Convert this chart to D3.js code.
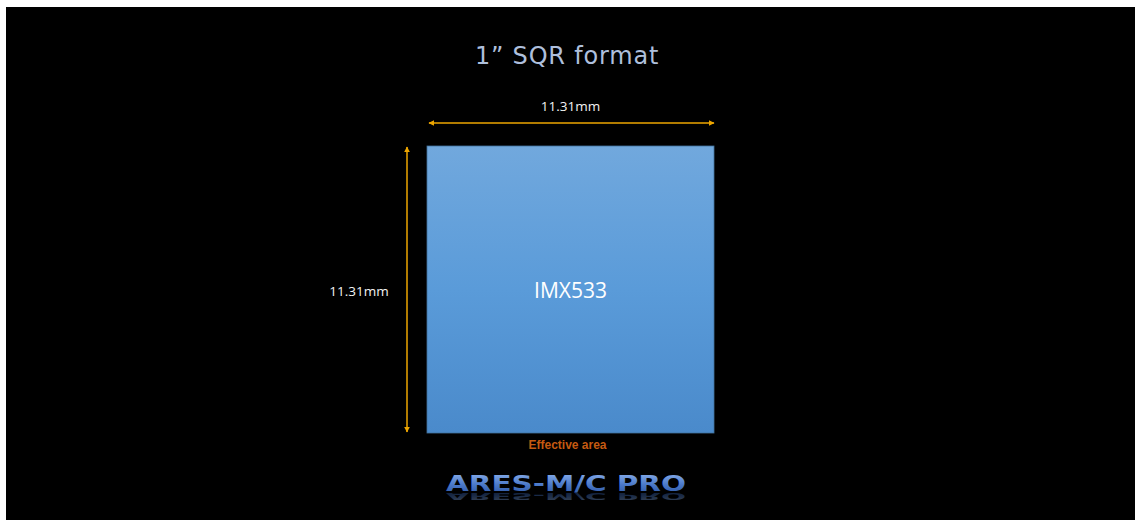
<!DOCTYPE html>
<html><head><meta charset="utf-8">
<script src="https://cdn.jsdelivr.net/npm/d3@7"></script>
<style>html,body{margin:0;padding:0;background:#fff;}svg{display:block;}</style>
</head><body>
<script>
// ---- data ----
const title = "1\u201D SQR format";
const sensorNames = ["IMX533"];
const sensorWidthMm = [11.31];
const sensorHeightMm = [11.31];
const dimLabels = ["11.31mm", "11.31mm"];
const areaLabel = "Effective area";
const brand = "ARES-M/C PRO";

const W = 1135, H = 520;
const svg = d3.select("body").append("svg").attr("width", W).attr("height", H);
const defs = svg.append("defs");

svg.append("rect").attr("x", 6).attr("y", 7).attr("width", W - 6).attr("height", H - 7).attr("fill", "#000");

const g1 = defs.append("linearGradient").attr("id", "sens").attr("x1", 0).attr("y1", 0).attr("x2", 0).attr("y2", 1);
g1.append("stop").attr("offset", "0%").attr("stop-color", "#71a8dd");
g1.append("stop").attr("offset", "50%").attr("stop-color", "#5a9bd9");
g1.append("stop").attr("offset", "100%").attr("stop-color", "#4a8acb");

const g2 = defs.append("linearGradient").attr("id", "logo").attr("x1", 0).attr("y1", 0).attr("x2", 0).attr("y2", 1);
g2.append("stop").attr("offset", "0%").attr("stop-color", "#8fb4ee");
g2.append("stop").attr("offset", "55%").attr("stop-color", "#4a78c8");
g2.append("stop").attr("offset", "100%").attr("stop-color", "#2c55a0");

const mk = defs.append("marker").attr("id", "ah").attr("viewBox", "0 0 10 10").attr("refX", 9).attr("refY", 5)
  .attr("markerWidth", 4).attr("markerHeight", 4).attr("orient", "auto-start-reverse");
mk.append("path").attr("d", "M0,0 L10,5 L0,10 z").attr("fill", "#eea600");

// scales (mm -> px)
const x = d3.scaleLinear().domain([0, 11.31]).range([427, 714]);
const y = d3.scaleLinear().domain([0, 11.31]).range([146, 433]);

// title
svg.append("text").attr("x", 567).attr("y", 64).attr("text-anchor", "middle")
  .attr("font-family", "DejaVu Sans").attr("font-size", 24).attr("fill", "#aebfdc")
  .attr("letter-spacing", 0.8).text(title);

// sensor rect
svg.selectAll("rect.sensor").data(sensorNames).join("rect").attr("class", "sensor")
  .attr("x", x(0)).attr("y", y(0))
  .attr("width", (d, i) => x(sensorWidthMm[i]) - x(0))
  .attr("height", (d, i) => y(sensorHeightMm[i]) - y(0))
  .attr("fill", "url(#sens)").attr("stroke", "#41719c").attr("stroke-width", 0.8);

svg.selectAll("text.sname").data(sensorNames).join("text").attr("class", "sname")
  .attr("x", (d, i) => x(sensorWidthMm[i] / 2)).attr("y", (d, i) => y(sensorHeightMm[i] / 2) + 8)
  .attr("text-anchor", "middle").attr("font-family", "Open Sans").attr("font-size", 21)
  .attr("fill", "#fff").text(d => d);

// horizontal dimension
svg.append("line").attr("x1", x(0) + 2).attr("x2", x(sensorWidthMm[0])).attr("y1", 123).attr("y2", 123)
  .attr("stroke", "#eea600").attr("stroke-width", 1.5)
  .attr("marker-start", "url(#ah)").attr("marker-end", "url(#ah)");
svg.append("text").attr("x", x(sensorWidthMm[0] / 2)).attr("y", 111).attr("text-anchor", "middle")
  .attr("font-family", "Open Sans").attr("font-size", 13.5).attr("fill", "#f2f2f2").text(dimLabels[0]);

// vertical dimension
svg.append("line").attr("x1", 407).attr("x2", 407).attr("y1", y(0) + 1).attr("y2", y(sensorHeightMm[0]) - 1)
  .attr("stroke", "#eea600").attr("stroke-width", 1.5)
  .attr("marker-start", "url(#ah)").attr("marker-end", "url(#ah)");
svg.append("text").attr("x", 359).attr("y", 296).attr("text-anchor", "middle")
  .attr("font-family", "Open Sans").attr("font-size", 13.5).attr("fill", "#f2f2f2").text(dimLabels[1]);

// effective area
svg.append("text").attr("x", x(sensorWidthMm[0] / 2) - 3).attr("y", 449).attr("text-anchor", "middle")
  .attr("font-family", "Liberation Sans").attr("font-weight", "bold").attr("font-size", 12)
  .attr("fill", "#c55a11").text(areaLabel);

// brand logo
const logo = svg.append("g");
logo.append("text").attr("id", "brandText").attr("x", 566).attr("y", 491).attr("text-anchor", "middle")
  .attr("font-family", "DejaVu Sans").attr("font-weight", "bold").attr("font-size", 23)
  .attr("transform", "translate(566,491) scale(1.28,0.92) translate(-566,-491)")
  .attr("fill", "url(#logo)").text(brand);
logo.append("use").attr("href", "#brandText")
  .attr("transform", "translate(0,493) scale(1,-0.4) translate(0,-491)")
  .attr("opacity", 0.35);
</script>
</body></html>
